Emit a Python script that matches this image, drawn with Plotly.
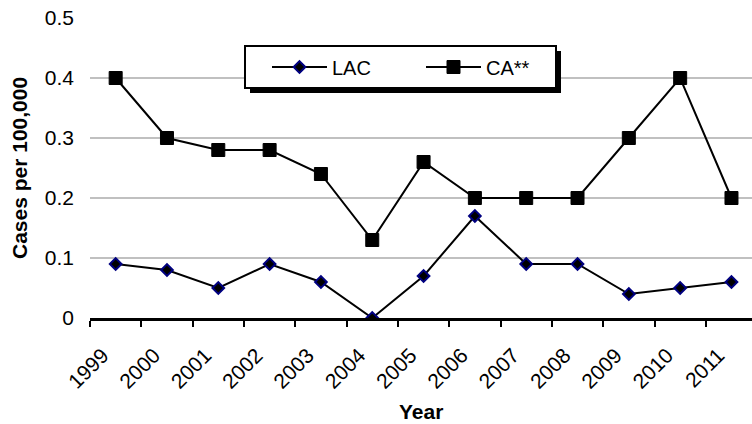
import plotly.graph_objects as go

years = ["1999", "2000", "2001", "2002", "2003", "2004", "2005",
         "2006", "2007", "2008", "2009", "2010", "2011"]
lac = [0.09, 0.08, 0.05, 0.09, 0.06, 0.00, 0.07, 0.17, 0.09, 0.09, 0.04, 0.05, 0.06]
ca = [0.40, 0.30, 0.28, 0.28, 0.24, 0.13, 0.26, 0.20, 0.20, 0.20, 0.30, 0.40, 0.20]
y_ticks = [0, 0.1, 0.2, 0.3, 0.4, 0.5]
y_ticktext = ["0", "0.1", "0.2", "0.3", "0.4", "0.5"]

W, H = 752, 424
L, R, T, B = 90, 0, 18, 106
PW, PH = W - L - R, H - T - B
FONT = "Liberation Sans, Arial, sans-serif"


def px(x):
    return (x - L) / PW


def py(y):
    return (H - B - y) / PH


fig = go.Figure()
fig.add_trace(go.Scatter(
    x=years, y=lac, name="LAC", mode="lines+markers",
    line=dict(color="black", width=2),
    marker=dict(symbol="diamond", size=9, color="black",
                line=dict(color="#000080", width=2)),
))
fig.add_trace(go.Scatter(
    x=years, y=ca, name="CA**", mode="lines+markers",
    line=dict(color="black", width=2),
    marker=dict(symbol="square", size=13, color="black",
                line=dict(color="black", width=1)),
))

fig.update_layout(
    width=W, height=H,
    margin=dict(l=L, r=R, t=T, b=B),
    paper_bgcolor="white", plot_bgcolor="white",
    font=dict(family=FONT, size=20, color="black"),
    showlegend=True,
    legend=dict(orientation="h", x=px(267), xanchor="left",
                y=py(67), yanchor="middle",
                bgcolor="rgba(0,0,0,0)", borderwidth=0,
                entrywidth=84, entrywidthmode="pixels", itemwidth=55,
                font=dict(family=FONT, size=20, color="black")),
    xaxis=dict(type="category", range=[-0.5, 12.4],
               tickson="boundaries", ticks="outside", ticklen=6,
               tickwidth=2, tickcolor="black",
               showline=True, linecolor="black", linewidth=2.5,
               showgrid=False, zeroline=False, tickangle=-45,
               ticklabelstandoff=14, ticklabelshift=-13,
               tickfont=dict(family=FONT, size=21, color="black")),
    yaxis=dict(range=[0, 0.5], tickvals=y_ticks, ticktext=y_ticktext,
               showgrid=True, gridcolor="#c0c0c0", gridwidth=1.5,
               zeroline=False, showline=False, ticks="",
               ticklabelstandoff=15,
               tickfont=dict(family=FONT, size=21, color="black")),
    shapes=[
        dict(type="rect", xref="paper", yref="paper",
             x0=px(250), x1=px(561), y0=py(93), y1=py(51),
             fillcolor="black", line=dict(width=0), layer="above"),
        dict(type="rect", xref="paper", yref="paper",
             x0=px(245), x1=px(556), y0=py(88), y1=py(46),
             fillcolor="white", line=dict(color="black", width=2), layer="above"),
    ],
    annotations=[
        dict(text="<b>Cases per 100,000</b>", xref="paper", yref="paper",
             x=px(19), y=py(168), xanchor="center", yanchor="middle",
             textangle=-90, showarrow=False,
             font=dict(family=FONT, size=21, color="black")),
        dict(text="<b>Year</b>", xref="paper", yref="paper",
             x=px(421), y=py(411), xanchor="center", yanchor="middle",
             showarrow=False, font=dict(family=FONT, size=21, color="black")),
    ],
)

fig.write_html("out.html", config={"displayModeBar": False},
               post_script="document.body.style.margin='0';document.body.style.padding='0';")
